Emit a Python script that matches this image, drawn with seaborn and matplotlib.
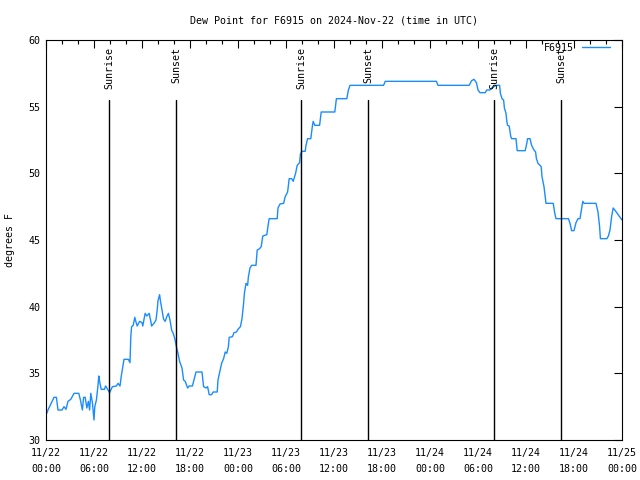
import numpy as np
import pandas as pd
import matplotlib
matplotlib.use('Agg')
import matplotlib.pyplot as plt
import matplotlib.dates as mdates
import seaborn as sns

# Dew point readings, hours after 2024-11-22 00:00 UTC
hours = [0.1, 0.25, 0.6, 1.0, 1.3, 1.5, 2.0, 2.25, 2.5, 2.75, 3.1, 3.5, 4.1, 4.3, 4.55, 4.7, 4.9,
         5.1, 5.3, 5.45, 5.6, 5.8, 6.0, 6.1, 6.3, 6.5, 6.6, 6.7, 6.9, 7.3, 7.45, 7.75, 7.95, 8.3,
         8.8, 9.0, 9.25, 9.4, 9.6, 9.75, 10.3, 10.5, 10.6, 10.7, 10.9, 11.1, 11.2, 11.4, 11.7,
         12.0, 12.1, 12.25, 12.4, 12.6, 12.9, 13.1, 13.2, 13.5, 13.75, 13.9, 14.0, 14.2, 14.3,
         14.5, 14.7, 14.9, 15.1, 15.3, 15.5, 15.7, 15.9, 16.1, 16.3, 16.5, 16.7, 17.0, 17.2,
         17.4, 17.7, 17.9, 18.3, 18.6, 18.75, 19.5, 19.7, 20.0, 20.2, 20.4, 20.7, 20.9, 21.4,
         21.5, 21.75, 21.95, 22.2, 22.4, 22.6, 22.8, 22.9, 23.3, 23.5, 23.8, 24.0, 24.3, 24.5,
         24.7, 24.8, 25.0, 25.2, 25.3, 25.5, 25.7, 26.25, 26.4, 26.7, 26.9, 27.1, 27.6, 27.8,
         27.9, 28.9, 29.0, 29.25, 29.7, 29.9, 30.2, 30.4, 30.7, 30.9, 31.2, 31.4, 31.7, 31.8,
         32.0, 32.4, 32.5, 32.7, 33.1, 33.3, 33.4, 33.6, 34.2, 34.4, 36.1, 36.3, 37.6, 37.8,
         38.0, 42.2, 42.4, 48.8, 49.0, 52.9, 53.2, 53.5, 53.8, 54.0, 54.25, 54.9, 55.1, 55.5,
         55.7, 56.3, 56.7, 56.8, 57.0, 57.2, 57.3, 57.5, 57.6, 57.7, 57.9, 58.1, 58.2, 58.75,
         58.9, 59.9, 60.1, 60.2, 60.5, 60.7, 61.0, 61.2, 61.3, 61.5, 61.75, 61.9, 62.0, 62.25,
         62.5, 63.4, 63.6, 63.75, 65.3, 65.5, 65.7, 66.0, 66.25, 66.5, 66.75, 67.0, 67.1,
         67.25, 68.75, 69.0, 69.2, 69.3, 70.1, 70.3, 70.5, 70.7, 70.9, 71.1, 71.4, 71.7, 72.0]
dew_point = [32.0, 32.25, 32.7, 33.2, 33.2, 32.25, 32.25, 32.5, 32.3, 32.9, 33.05, 33.5, 33.5, 33.0,
             32.25, 33.2, 33.2, 32.4, 32.9, 32.25, 33.5, 32.8, 31.5, 32.5, 33.0, 34.1, 34.8, 34.4,
             33.8, 33.8, 34.05, 33.75, 33.55, 34.0, 34.05, 34.25, 34.05, 34.75, 35.5, 36.05, 36.05,
             35.8, 37.75, 38.5, 38.6, 39.2, 38.95, 38.55, 38.9, 38.8, 38.55, 39.05, 39.5, 39.3,
             39.5, 38.9, 38.55, 38.75, 39.0, 39.75, 40.45, 40.9, 40.45, 39.75, 39.05, 38.9, 39.25,
             39.5, 39.0, 38.25, 38.0, 37.6, 37.0, 36.5, 35.9, 35.4, 34.5, 34.4, 33.9, 34.05, 34.05,
             34.75, 35.1, 35.1, 34.0, 33.9, 34.0, 33.4, 33.4, 33.6, 33.6, 34.5, 35.2, 35.75, 36.1,
             36.6, 36.5, 37.0, 37.7, 37.75, 38.05, 38.1, 38.3, 38.5, 39.1, 40.25, 41.0, 41.75, 41.6,
             42.25, 42.9, 43.1, 43.1, 44.25, 44.35, 44.5, 45.3, 45.4, 46.25, 46.6, 46.6, 47.4,
             47.7, 47.75, 48.25, 48.6, 49.6, 49.6, 49.4, 50.0, 50.6, 50.8, 51.45, 51.65, 51.65,
             52.1, 52.6, 52.6, 53.55, 53.9, 53.6, 53.6, 54.6, 54.6, 55.6, 55.6, 56.25, 56.6, 56.6,
             56.9, 56.9, 56.6, 56.6, 56.95, 57.05, 56.8, 56.25, 56.05, 56.05, 56.25, 56.25, 56.4,
             56.6, 56.6, 56.0, 55.6, 55.5, 54.9, 54.5, 53.9, 53.6, 53.55, 52.75, 52.6, 52.6, 51.7,
             51.7, 52.25, 52.6, 52.6, 52.1, 51.75, 51.6, 51.1, 50.75, 50.6, 50.5, 49.75, 49.0,
             47.75, 47.75, 47.0, 46.6, 46.6, 46.25, 45.7, 45.7, 46.3, 46.6, 46.6, 47.5, 47.9,
             47.75, 47.75, 47.1, 46.0, 45.1, 45.1, 45.3, 45.75, 46.75, 47.4, 47.25, 47.0, 46.75,
             46.5]

sunrise_hours = [7.9, 31.9, 56.0]
sunset_hours = [16.3, 40.3, 64.4]

start = pd.Timestamp('2024-11-22 00:00')
df = pd.DataFrame({'time': start + pd.to_timedelta(hours, unit='h'), 'dew': dew_point})

FS = 7.2
sns.set_theme(style='white')
plt.rcParams['font.family'] = ['DejaVu Sans Mono']
plt.rcParams['font.size'] = FS
plt.rcParams['text.color'] = 'black'
plt.rcParams['axes.labelcolor'] = 'black'

fig = plt.figure(figsize=(6.4, 4.8), dpi=100)
ax = fig.add_axes([46 / 640, 40 / 480, 576 / 640, 400 / 480])

sns.lineplot(data=df, x='time', y='dew', ax=ax, color='#1a8cff', linewidth=1.0, label='F6915')

ax.set_xlim(start, start + pd.Timedelta(hours=72))
ax.set_ylim(30, 60)
ax.set_yticks(np.arange(30, 61, 5))

for h in sunrise_hours:
    t = start + pd.Timedelta(hours=h)
    ax.axvline(t, ymin=0, ymax=0.85, color='black', linewidth=1.0)
    ax.text(t, 59.45, 'Sunrise', rotation=90, ha='center', va='top', fontsize=FS)
for h in sunset_hours:
    t = start + pd.Timedelta(hours=h)
    ax.axvline(t, ymin=0, ymax=0.85, color='black', linewidth=1.0)
    ax.text(t, 59.45, 'Sunset', rotation=90, ha='center', va='top', fontsize=FS)

ax.xaxis.set_major_locator(mdates.HourLocator(byhour=[0, 6, 12, 18]))
ax.xaxis.set_minor_locator(mdates.HourLocator(byhour=range(0, 24, 2)))
ax.xaxis.set_major_formatter(mdates.DateFormatter('%m/%d\n%H:%M'))

ax.tick_params(which='both', direction='in', top=True, right=True, colors='black',
               width=0.8, labelsize=FS)
ax.tick_params(which='major', length=6)
ax.tick_params(which='minor', length=3)
ax.tick_params(axis='x', which='major', pad=6)
ax.tick_params(axis='y', which='major', pad=4)
for lab in ax.get_xticklabels():
    lab.set_linespacing(1.7)

for s in ax.spines.values():
    s.set_color('black')
    s.set_linewidth(0.8)

ax.set_xlabel('')
ax.set_ylabel('')
fig.text(10 / 640, 0.5, 'degrees F', rotation=90, ha='center', va='center', fontsize=FS)
ax.set_title('Dew Point for F6915 on 2024-Nov-22 (time in UTC)', fontsize=FS, pad=12)

ax.legend(loc='upper right', bbox_to_anchor=((610 - 46) / 576, 0.993), frameon=False,
          markerfirst=False, handlelength=2.8, handletextpad=0.8, borderaxespad=0,
          borderpad=0, fontsize=FS)

fig.savefig('out.png', dpi=100)
